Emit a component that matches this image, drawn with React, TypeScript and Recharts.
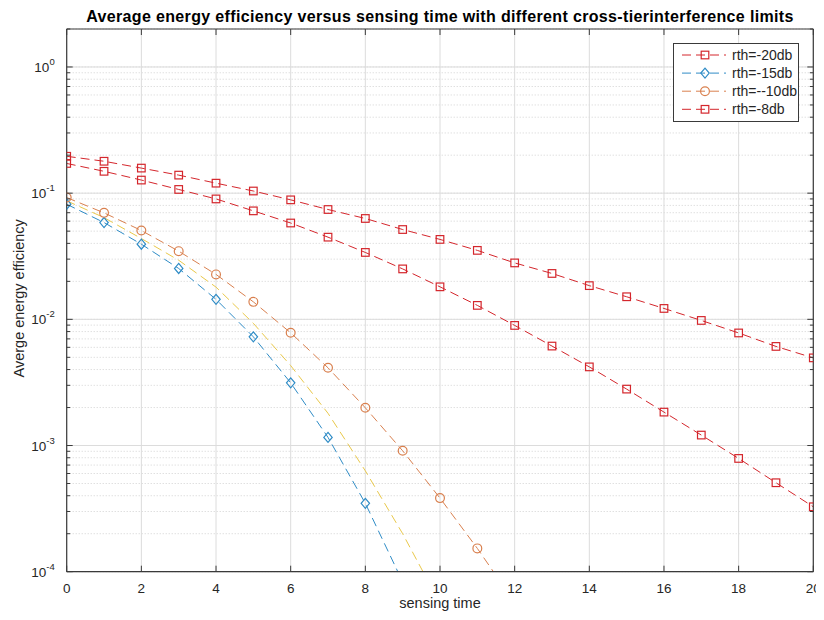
import React from 'react';
import { LineChart, Line, XAxis, YAxis, CartesianGrid, ReferenceLine, Legend, Label } from 'recharts';

const sensingTime = [0, 1, 2, 3, 4, 5, 6, 7, 8, 9, 10, 11, 12, 13, 14, 15, 16, 17, 18, 19, 20];
const rth20 = [0.196, 0.179, 0.158, 0.139, 0.12, 0.104, 0.0885, 0.0742, 0.063, 0.0515, 0.043, 0.0352, 0.028, 0.0231, 0.0185, 0.0151, 0.0122, 0.0098, 0.0078, 0.0061, 0.00495];
const rth15 = [0.0817, 0.0585, 0.0394, 0.0253, 0.0144, 0.00727, 0.00314, 0.00116, 0.000348, 0.000083];
const rth10 = [0.0923, 0.0698, 0.0506, 0.0347, 0.0227, 0.01376, 0.00782, 0.00413, 0.00199, 0.000908, 0.000383, 0.000153, 0.000057];
const rth8 = [0.172, 0.149, 0.127, 0.107, 0.09, 0.0724, 0.058, 0.0448, 0.0339, 0.0251, 0.0181, 0.0129, 0.00895, 0.00614, 0.0042, 0.0028, 0.00184, 0.00121, 0.00079, 0.000507, 0.000327];
const unlabeled = [0.087, 0.064, 0.0437, 0.0294, 0.018, 0.0093, 0.0043, 0.0018, 0.00063, 0.0002, 0.000056];

const xTicks = [0, 2, 4, 6, 8, 10, 12, 14, 16, 18, 20];
const yMajorTicks = [1e-4, 1e-3, 1e-2, 1e-1, 1];
const yMinorFactors = [2, 3, 4, 5, 6, 7, 8, 9];

const titleText = 'Average energy efficiency versus sensing time with different cross-tierinterference limits';
const xLabelText = 'sensing time';
const yLabelText = 'Averge energy efficiency';

const series = [
  { key: 'rth20', name: 'rth=-20db', values: rth20, color: '#d4262c', marker: 'square', legend: true },
  { key: 'rth15', name: 'rth=-15db', values: rth15, color: '#2f8cc6', marker: 'diamond', legend: true },
  { key: 'rth10', name: 'rth=--10db', values: rth10, color: '#d9804f', marker: 'circle', legend: true },
  { key: 'rth8', name: 'rth=-8db', values: rth8, color: '#d4262c', marker: 'square', legend: true },
  { key: 'extra', name: 'extra', values: unlabeled, color: '#e9c84a', marker: 'none', legend: false },
];

const data = sensingTime.map((t, i) => {
  const row: any = { t };
  series.forEach((s) => {
    if (i < s.values.length) row[s.key] = s.values[i];
  });
  return row;
});

const yMinorTicks: number[] = [];
yMajorTicks.forEach((m) => {
  yMinorFactors.forEach((f) => {
    const v = m * f;
    if (v <= 2.0001) yMinorTicks.push(v);
  });
});
const yAllTicks = [...yMajorTicks, ...yMinorTicks].sort((a, b) => a - b);

const isMajor = (v: number) => Math.abs(Math.log10(v) - Math.round(Math.log10(v))) < 1e-6;

const AXIS = '#3a3a3a';
const TEXT = '#262626';
const FONT = 'Liberation Sans, Arial, Helvetica, sans-serif';

const Marker = ({ type, cx, cy, color }: any) => {
  if (cx == null || cy == null || isNaN(cx) || isNaN(cy)) return null;
  if (type === 'square') {
    return <rect x={cx - 3.8} y={cy - 3.8} width={7.6} height={7.6} fill="none" stroke={color} strokeWidth={1.2} />;
  }
  if (type === 'diamond') {
    return <polygon points={`${cx},${cy - 5} ${cx + 4.2},${cy} ${cx},${cy + 5} ${cx - 4.2},${cy}`} fill="none" stroke={color} strokeWidth={1.2} />;
  }
  if (type === 'circle') {
    return <circle cx={cx} cy={cy} r={4.4} fill="none" stroke={color} strokeWidth={1.2} />;
  }
  return null;
};

const makeDot = (type: string, color: string) => (props: any) => (
  <g key={`dot-${props.index}`}>
    <Marker type={type} cx={props.cx} cy={props.cy} color={color} />
  </g>
);

const BottomTick = (props: any) => {
  const { x, y, payload } = props;
  return (
    <g>
      <line x1={x} y1={y} x2={x} y2={y - 6} stroke={AXIS} strokeWidth={1} />
      <text x={x} y={y + 21} textAnchor="middle" fontSize={13.5} fill={TEXT} fontFamily={FONT}>
        {payload.value}
      </text>
    </g>
  );
};

const TopTick = (props: any) => {
  const { x, y } = props;
  return <line x1={x} y1={y} x2={x} y2={y + 6} stroke={AXIS} strokeWidth={1} />;
};

const LeftTick = (props: any) => {
  const { x, y, payload } = props;
  const v = payload.value;
  const major = isMajor(v);
  const exp = Math.round(Math.log10(v));
  return (
    <g>
      <line x1={x} y1={y} x2={x + (major ? 6 : 3.5)} y2={y} stroke={AXIS} strokeWidth={1} />
      {major && (
        <text x={x - 12} y={y + 5} textAnchor="end" fontSize={13.5} fill={TEXT} fontFamily={FONT}>
          <tspan>10</tspan>
          <tspan dy={-7} fontSize={9.5}>{exp}</tspan>
        </text>
      )}
    </g>
  );
};

const RightTick = (props: any) => {
  const { x, y, payload } = props;
  const major = isMajor(payload.value);
  return <line x1={x} y1={y} x2={x - (major ? 6 : 3.5)} y2={y} stroke={AXIS} strokeWidth={1} />;
};

const LegendBox = () => {
  const items = series.filter((s) => s.legend);
  return (
    <div style={{ width: 126, height: 79, border: `1px solid ${AXIS}`, background: '#fff', boxSizing: 'border-box' }}>
      <svg width={124} height={77} style={{ display: 'block' }}>
        {items.map((s, i) => {
          const cy = 11 + i * 18.1;
          return (
            <g key={s.key}>
              <line x1={8} y1={cy} x2={52} y2={cy} stroke={s.color} strokeWidth={1} strokeDasharray="9 5" />
              <Marker type={s.marker} cx={31} cy={cy} color={s.color} />
              <text x={58} y={cy + 5} fontSize={14} fill={TEXT} fontFamily={FONT}>
                {s.name}
              </text>
            </g>
          );
        })}
      </svg>
    </div>
  );
};

export default function App() {
  return (
    <div style={{ position: 'relative', width: 824, height: 604, marginLeft: -8, fontFamily: FONT }}>
      <LineChart
        width={824}
        height={604}
        data={data}
        margin={{ top: 1, right: 8.7, left: 0, bottom: 0 }}
      >
        <CartesianGrid xAxisId="bottom" yAxisId="left" vertical={false} stroke="#d2d2d2" strokeDasharray="1 2" />
        <CartesianGrid xAxisId="bottom" yAxisId="left" horizontal={false} stroke="#dcdcdc" />
        {yMajorTicks.map((v) => (
          <ReferenceLine key={`maj-${v}`} xAxisId="bottom" yAxisId="left" y={v} stroke="#dcdcdc" strokeWidth={1} />
        ))}
        <XAxis
          xAxisId="bottom"
          dataKey="t"
          type="number"
          domain={[0, 20]}
          allowDataOverflow
          ticks={xTicks}
          interval={0}
          height={40.3}
          tickSize={0}
          tickMargin={0}
          tickLine={false}
          axisLine={{ stroke: AXIS, strokeWidth: 1.2 }}
          tick={<BottomTick />}
        >
          <Label
            content={(p: any) => {
              const vb = p.viewBox;
              return (
                <text x={vb.x + vb.width / 2} y={vb.y + 36} textAnchor="middle" fontSize={14.5} fill={TEXT} fontFamily={FONT}>
                  {xLabelText}
                </text>
              );
            }}
          />
        </XAxis>
        <XAxis
          xAxisId="top"
          orientation="top"
          dataKey="t"
          type="number"
          domain={[0, 20]}
          allowDataOverflow
          ticks={xTicks}
          interval={0}
          height={20}
          tickSize={0}
          tickMargin={0}
          tickLine={false}
          axisLine={{ stroke: AXIS, strokeWidth: 1.2 }}
          tick={<TopTick />}
        >
          <Label
            content={(p: any) => {
              const vb = p.viewBox;
              return (
                <text x={vb.x + vb.width / 2} y={vb.y + vb.height - 7} textAnchor="middle" fontSize={16} letterSpacing={0.35} fontWeight="bold" fill="#000" fontFamily={FONT}>
                  {titleText}
                </text>
              );
            }}
          />
        </XAxis>
        <YAxis
          yAxisId="left"
          scale="log"
          type="number"
          domain={[1e-4, 2]}
          allowDataOverflow
          ticks={yAllTicks}
          interval={0}
          width={66.7}
          tickSize={0}
          tickMargin={0}
          tickLine={false}
          axisLine={{ stroke: AXIS, strokeWidth: 1.2 }}
          tick={<LeftTick />}
        >
          <Label
            content={(p: any) => {
              const vb = p.viewBox;
              const cx = 19;
              const cy = vb.y + vb.height / 2 - 2;
              return (
                <text x={cx} y={cy} transform={`rotate(-90, ${cx}, ${cy})`} textAnchor="middle" dominantBaseline="central" fontSize={14.5} fill={TEXT} fontFamily={FONT}>
                  {yLabelText}
                </text>
              );
            }}
          />
        </YAxis>
        <YAxis
          yAxisId="right"
          orientation="right"
          scale="log"
          type="number"
          domain={[1e-4, 2]}
          allowDataOverflow
          ticks={yAllTicks}
          interval={0}
          width={2}
          tickSize={0}
          tickMargin={0}
          tickLine={false}
          axisLine={{ stroke: AXIS, strokeWidth: 1.2 }}
          tick={<RightTick />}
        />
        {series.map((s) => (
          <Line
            key={s.key}
            xAxisId="bottom"
            yAxisId="left"
            type="linear"
            dataKey={s.key}
            name={s.name}
            stroke={s.color}
            strokeWidth={1}
            strokeDasharray="9 5"
            dot={makeDot(s.marker, s.color)}
            activeDot={false}
            legendType={s.legend ? 'line' : 'none'}
            connectNulls={false}
            isAnimationActive={false}
          />
        ))}
        <Legend
          layout="horizontal"
          verticalAlign="middle"
          align="center"
          width={126}
          wrapperStyle={{ position: 'absolute', left: 673, top: 35, width: 126, height: 79 }}
          content={() => <LegendBox />}
        />
      </LineChart>
    </div>
  );
}
